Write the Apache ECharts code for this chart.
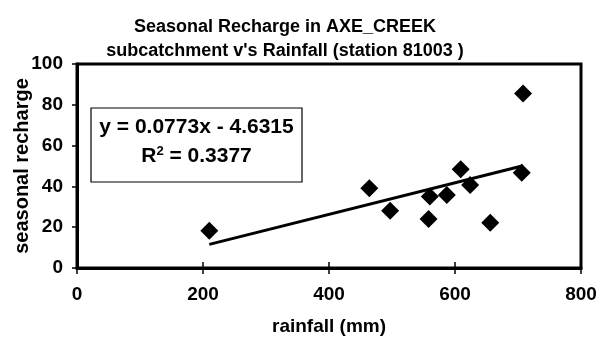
<!DOCTYPE html>
<html>
<head>
<meta charset="utf-8">
<script src="https://cdn.jsdelivr.net/npm/echarts@6/dist/echarts.min.js"></script>
<style>
  html, body { margin: 0; padding: 0; background: #fff; }
  #chart { width: 598px; height: 344px; }
</style>
</head>
<body>
<div id="chart"></div>
<script>
// Seasonal recharge (mm) against seasonal rainfall (mm), station 81003
const rainfall = [210, 464, 497, 560, 558, 587, 609, 624, 656, 706, 708];
const recharge = [18.3, 39.1, 28.1, 35.0, 24.0, 35.8, 48.4, 40.7, 22.2, 46.7, 85.6];

// Linear trend fitted to the points
const slope = 0.0773;
const intercept = -4.6315;
const rSquared = 0.3377;

const xTicks = { min: 0, max: 800, interval: 200 };
const yTicks = { min: 0, max: 100, interval: 20 };

const FONT = '"Liberation Sans", Arial, sans-serif';

const points = rainfall.map((x, i) => [x, recharge[i]]);
const xLo = Math.min(...rainfall);
const xHi = Math.max(...rainfall);
const trend = [[xLo, slope * xLo + intercept], [xHi, slope * xHi + intercept]];

const sign = intercept < 0 ? ' - ' : ' + ';
const eqLine = 'y = ' + slope.toFixed(4) + 'x' + sign + Math.abs(intercept).toFixed(4);
const r2Line = '{r|R}{sup|2}{r| = ' + rSquared.toFixed(4) + '}';

const chart = echarts.init(document.getElementById('chart'), null, { renderer: 'canvas' });

chart.setOption({
  backgroundColor: '#ffffff',
  animation: false,
  title: {
    text: 'Seasonal Recharge in AXE_CREEK\nsubcatchment v\'s Rainfall (station 81003 )',
    left: 280,
    textAlign: 'center',
    top: 10,
    textStyle: { fontFamily: FONT, fontSize: 18, fontWeight: 'bold', color: '#000', lineHeight: 24 }
  },
  grid: {
    left: 77, right: 17, top: 64, bottom: 76,
    outerBoundsMode: 'none',
    containLabel: false,
    show: true, borderColor: '#000', borderWidth: 3, backgroundColor: 'transparent'
  },
  xAxis: [{
    type: 'value',
    min: xTicks.min, max: xTicks.max, interval: xTicks.interval,
    name: 'rainfall (mm)',
    nameLocation: 'middle',
    nameGap: 49,
    nameMoveOverlap: false,
    nameTextStyle: { fontFamily: FONT, fontSize: 19, fontWeight: 'bold', color: '#000' },
    axisLine: { show: true, onZero: false, lineStyle: { color: '#000', width: 3 } },
    axisTick: { show: true, inside: false, length: 6, lineStyle: { color: '#000', width: 1.5 } },
    axisLabel: { margin: 17, fontFamily: FONT, fontSize: 19, fontWeight: 'bold', color: '#000' },
    splitLine: { show: false }
  }, {
    // inner half of the crossing tick marks
    type: 'value',
    position: 'bottom',
    min: xTicks.min, max: xTicks.max, interval: xTicks.interval,
    axisLine: { show: false },
    axisTick: { show: true, inside: true, length: 6, lineStyle: { color: '#000', width: 1.5 } },
    axisLabel: { show: false },
    splitLine: { show: false }
  }],
  yAxis: {
    type: 'value',
    min: yTicks.min, max: yTicks.max, interval: yTicks.interval,
    name: 'seasonal recharge',
    nameLocation: 'middle',
    nameGap: 45,
    nameMoveOverlap: false,
    nameTextStyle: { fontFamily: FONT, fontSize: 20, fontWeight: 'bold', color: '#000' },
    axisLine: { show: true, onZero: false, lineStyle: { color: '#000', width: 3 } },
    axisTick: { show: true, inside: false, length: 5, lineStyle: { color: '#000', width: 1.5 } },
    axisLabel: { margin: 14, fontFamily: FONT, fontSize: 19, fontWeight: 'bold', color: '#000' },
    splitLine: { show: false }
  },
  graphic: [{
    type: 'rect',
    shape: { x: 91, y: 108, width: 211, height: 74 },
    style: { fill: '#fff', stroke: '#000', lineWidth: 1.2 },
    z: 10
  }, {
    type: 'text',
    x: 196.5, y: 127,
    style: {
      text: eqLine,
      fontFamily: FONT, fontSize: 21, fontWeight: 'bold', fill: '#000',
      align: 'center', verticalAlign: 'middle'
    },
    z: 11
  }, {
    type: 'text',
    x: 196.5, y: 156,
    style: {
      text: r2Line,
      align: 'center', verticalAlign: 'middle',
      rich: {
        r: { fontFamily: FONT, fontSize: 21, fontWeight: 'bold', fill: '#000' },
        sup: { fontFamily: FONT, fontSize: 13, fontWeight: 'bold', fill: '#000', verticalAlign: 'top', padding: [0, 0, 10, 0] }
      }
    },
    z: 11
  }],
  series: [{
    type: 'line',
    data: trend,
    showSymbol: false,
    symbol: 'none',
    lineStyle: { color: '#000', width: 3 },
    z: 2
  }, {
    type: 'scatter',
    data: points,
    symbol: 'diamond',
    symbolSize: 18,
    itemStyle: { color: '#000', opacity: 1 },
    emphasis: { disabled: true },
    z: 3
  }]
});
</script>
</body>
</html>
